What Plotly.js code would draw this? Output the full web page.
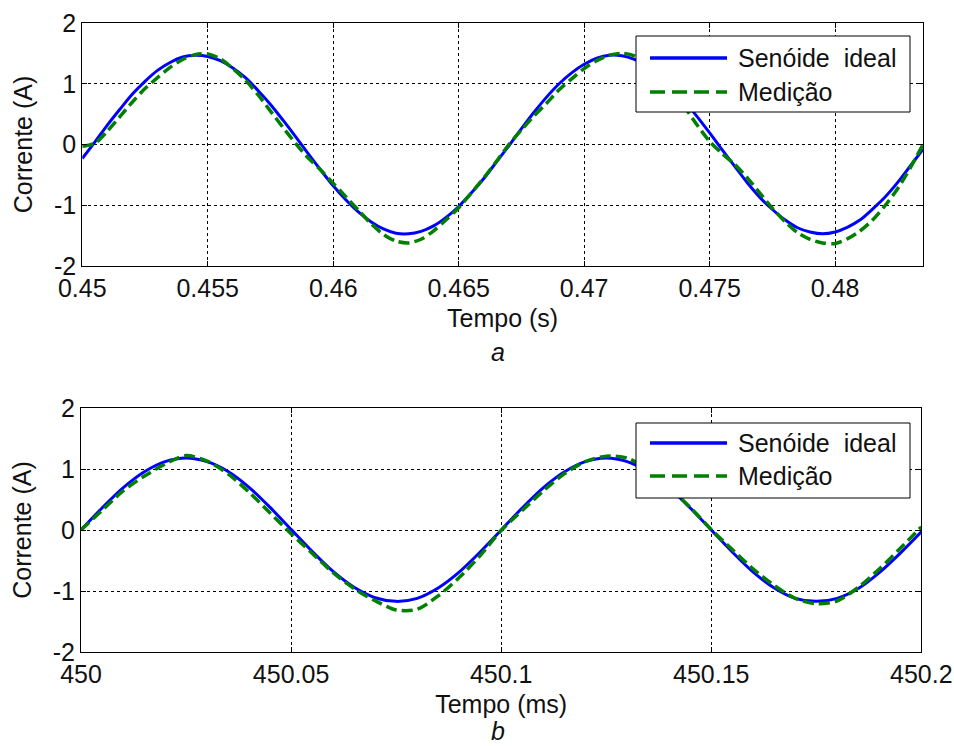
<!DOCTYPE html>
<html>
<head>
<meta charset="utf-8">
<script src="https://cdn.plot.ly/plotly-3.0.1.min.js"></script>
<style>
  html, body { margin: 0; padding: 0; background: #fff; }
  #chart { width: 954px; height: 746px; }
</style>
</head>
<body>
<div id="chart"></div>
<script>
// ---- Panel a: time in seconds ----
const tempoS = [0.4500,0.4505,0.4510,0.4515,0.4520,0.4525,0.4530,0.4535,0.4540,0.4545,
                0.4550,0.4555,0.4560,0.4565,0.4570,0.4575,0.4580,0.4585,0.4590,0.4595,
                0.4600,0.4605,0.4610,0.4615,0.4620,0.4625,0.4630,0.4635,0.4640,0.4645,
                0.4650,0.4655,0.4660,0.4665,0.4670,0.4675,0.4680,0.4685,0.4690,0.4695,
                0.4700,0.4705,0.4710,0.4715,0.4720,0.4725,0.4730,0.4735,0.4740,0.4745,
                0.4750,0.4755,0.4760,0.4765,0.4770,0.4775,0.4780,0.4785,0.4790,0.4795,
                0.4800,0.4805,0.4810,0.4815,0.4820,0.4825,0.4830,0.4835];
const idealA = [-0.23,0.04,0.32,0.58,0.83,1.04,1.22,1.35,1.44,1.47,
                1.45,1.38,1.26,1.10,0.89,0.66,0.40,0.13,-0.15,-0.42,
                -0.68,-0.91,-1.11,-1.27,-1.39,-1.46,-1.47,-1.43,-1.34,-1.20,
                -1.02,-0.80,-0.56,-0.29,-0.02,0.26,0.53,0.78,1.00,1.18,
                1.32,1.42,1.47,1.46,1.40,1.29,1.14,0.94,0.71,0.46,
                0.19,-0.09,-0.36,-0.63,-0.87,-1.07,-1.24,-1.37,-1.44,-1.47,
                -1.44,-1.36,-1.24,-1.06,-0.86,-0.62,-0.35,-0.08];
const medidaA = [-0.03,0.02,0.22,0.46,0.70,0.92,1.10,1.27,1.40,1.48,
                 1.49,1.41,1.25,1.06,0.82,0.55,0.28,0.02,-0.22,-0.42,
                 -0.64,-0.86,-1.08,-1.30,-1.48,-1.59,-1.62,-1.56,-1.42,-1.24,
                 -1.04,-0.80,-0.55,-0.28,0.00,0.24,0.47,0.68,0.90,1.08,
                 1.25,1.38,1.47,1.50,1.46,1.34,1.14,0.90,0.62,0.32,
                 0.05,-0.15,-0.33,-0.55,-0.80,-1.05,-1.27,-1.45,-1.56,-1.62,
                 -1.63,-1.55,-1.42,-1.24,-1.00,-0.72,-0.38,0.00];
const ticksA = [0.45, 0.455, 0.46, 0.465, 0.47, 0.475, 0.48];
const tickTextA = ['0.45', '0.455', '0.46', '0.465', '0.47', '0.475', '0.48'];

// ---- Panel b: time in milliseconds ----
const tempoMs = [450.000,450.005,450.010,450.015,450.020,450.025,450.030,450.035,450.040,450.045,
                 450.050,450.055,450.060,450.065,450.070,450.075,450.080,450.085,450.090,450.095,
                 450.100,450.105,450.110,450.115,450.120,450.125,450.130,450.135,450.140,450.145,
                 450.150,450.155,450.160,450.165,450.170,450.175,450.180,450.185,450.190,450.195,
                 450.200];
const idealB = [0.00,0.36,0.69,0.95,1.12,1.18,1.12,0.96,0.70,0.37,
                0.01,-0.35,-0.68,-0.94,-1.11,-1.17,-1.12,-0.95,-0.69,-0.36,
                0.00,0.36,0.69,0.95,1.12,1.18,1.12,0.95,0.69,0.36,
                0.00,-0.36,-0.69,-0.95,-1.12,-1.17,-1.12,-0.96,-0.70,-0.38,
                -0.03];
const medidaB = [0.00,0.32,0.64,0.88,1.08,1.22,1.13,0.92,0.62,0.28,
                 -0.06,-0.38,-0.70,-0.96,-1.16,-1.31,-1.30,-1.08,-0.78,-0.42,
                 -0.01,0.32,0.64,0.92,1.12,1.21,1.18,0.98,0.70,0.37,
                 0.01,-0.32,-0.64,-0.91,-1.12,-1.21,-1.16,-0.94,-0.64,-0.30,
                 0.05];
const ticksB = [450, 450.05, 450.1, 450.15, 450.2];
const tickTextB = ['450', '450.05', '450.1', '450.15', '450.2'];

const ticksY = [-2, -1, 0, 1, 2];
const tickTextY = ['-2', '-1', '0', '1', '2'];

const nomes = ['Sen\u00f3ide\u00a0 ideal', 'Medi\u00e7\u00e3o'];

// ---- page geometry (pixels) ----
const W = 954, H = 746;
const M = { l: 81, r: 31, t: 23, b: 94 };
const plotW = W - M.l - M.r, plotH = H - M.t - M.b;
const fx = x => (x - M.l) / plotW;          // page px -> paper x
const fy = y => (H - M.b - y) / plotH;      // page px -> paper y

const FONT = 'Liberation Sans, Arial, Helvetica, sans-serif';
const AZUL = '#0000ff', VERDE = '#008000';

function axis(extra) {
  return Object.assign({
    showline: true, mirror: 'ticks', linecolor: '#000', linewidth: 1,
    ticks: 'inside', ticklen: 5, tickcolor: '#000', tickwidth: 1,
    showgrid: true, gridcolor: '#000', gridwidth: 1, griddash: '3px,3px',
    zeroline: false, automargin: false, fixedrange: true,
    tickfont: { family: FONT, size: 25, color: '#111' }
  }, extra);
}

const traces = [
  { x: tempoS, y: idealA, xaxis: 'x', yaxis: 'y', type: 'scatter', mode: 'lines', name: nomes[0],
    line: { color: AZUL, width: 3, shape: 'spline', smoothing: 0.8 } },
  { x: tempoS, y: medidaA, xaxis: 'x', yaxis: 'y', type: 'scatter', mode: 'lines', name: nomes[1],
    line: { color: VERDE, width: 3.5, dash: '11px,5px', shape: 'spline', smoothing: 0.8 } },
  { x: tempoMs, y: idealB, xaxis: 'x2', yaxis: 'y2', type: 'scatter', mode: 'lines', name: nomes[0],
    line: { color: AZUL, width: 3, shape: 'spline', smoothing: 0.8 } },
  { x: tempoMs, y: medidaB, xaxis: 'x2', yaxis: 'y2', type: 'scatter', mode: 'lines', name: nomes[1],
    line: { color: VERDE, width: 3.5, dash: '11px,5px', shape: 'spline', smoothing: 0.8 } }
];

// legend boxes drawn as shapes + text annotations
function legendBox(top, bottom, row1, row2) {
  const left = 636, right = 910, l0 = 650, l1 = 727;
  const shapes = [
    { type: 'rect', xref: 'paper', yref: 'paper', x0: fx(left), x1: fx(right), y0: fy(bottom), y1: fy(top),
      fillcolor: '#fff', line: { color: '#000', width: 1 }, layer: 'above' },
    { type: 'line', xref: 'paper', yref: 'paper', x0: fx(l0), x1: fx(l1), y0: fy(row1), y1: fy(row1),
      line: { color: AZUL, width: 3.5 }, layer: 'above' },
    { type: 'line', xref: 'paper', yref: 'paper', x0: fx(l0), x1: fx(l1), y0: fy(row2), y1: fy(row2),
      line: { color: VERDE, width: 3.5, dash: '15px,7px' }, layer: 'above' }
  ];
  const anns = [
    { xref: 'paper', yref: 'paper', x: fx(736), y: fy(row1), xanchor: 'left', yanchor: 'middle',
      text: nomes[0], showarrow: false, font: { family: FONT, size: 25, color: '#111' } },
    { xref: 'paper', yref: 'paper', x: fx(736), y: fy(row2), xanchor: 'left', yanchor: 'middle',
      text: nomes[1], showarrow: false, font: { family: FONT, size: 25, color: '#111' } }
  ];
  return { shapes, anns };
}
const legA = legendBox(36, 112, 58, 92);
const legB = legendBox(423, 498, 443, 476);

const layout = {
  width: W, height: H,
  margin: M,
  paper_bgcolor: '#fff', plot_bgcolor: '#fff',
  showlegend: false,
  font: { family: FONT, size: 25, color: '#111' },
  xaxis: axis({ domain: [0.0015, 1], anchor: 'y', range: [0.45, 0.4835],
                tickvals: ticksA, ticktext: tickTextA,
                title: { text: 'Tempo (s)', font: { family: FONT, size: 25, color: '#111' }, standoff: 8 } }),
  yaxis: axis({ domain: [fy(266), 1], anchor: 'x', range: [-2, 2],
                tickvals: ticksY, ticktext: tickTextY,
                title: { text: 'Corrente (A)', font: { family: FONT, size: 25, color: '#111' }, standoff: 14 } }),
  xaxis2: axis({ domain: [0, 0.998], anchor: 'y2', range: [450, 450.2],
                 tickvals: ticksB, ticktext: tickTextB,
                 title: { text: 'Tempo (ms)', font: { family: FONT, size: 25, color: '#111' }, standoff: 8 } }),
  yaxis2: axis({ domain: [0, fy(408)], anchor: 'x2', range: [-2, 2],
                 tickvals: ticksY, ticktext: tickTextY,
                 title: { text: 'Corrente (A)', font: { family: FONT, size: 25, color: '#111' }, standoff: 14 } }),
  shapes: legA.shapes.concat(legB.shapes),
  annotations: legA.anns.concat(legB.anns).concat([
    { xref: 'paper', yref: 'paper', x: fx(498), y: fy(352), xanchor: 'center', yanchor: 'middle',
      text: '<i>a</i>', showarrow: false, font: { family: FONT, size: 25, color: '#111' } },
    { xref: 'paper', yref: 'paper', x: fx(498), y: fy(746), xanchor: 'center', yanchor: 'bottom',
      borderpad: 0, text: '<i>b</i>', showarrow: false, font: { family: FONT, size: 25, color: '#111' } }
  ])
};

Plotly.newPlot('chart', traces, layout, { displayModeBar: false, staticPlot: true });
</script>
</body>
</html>
